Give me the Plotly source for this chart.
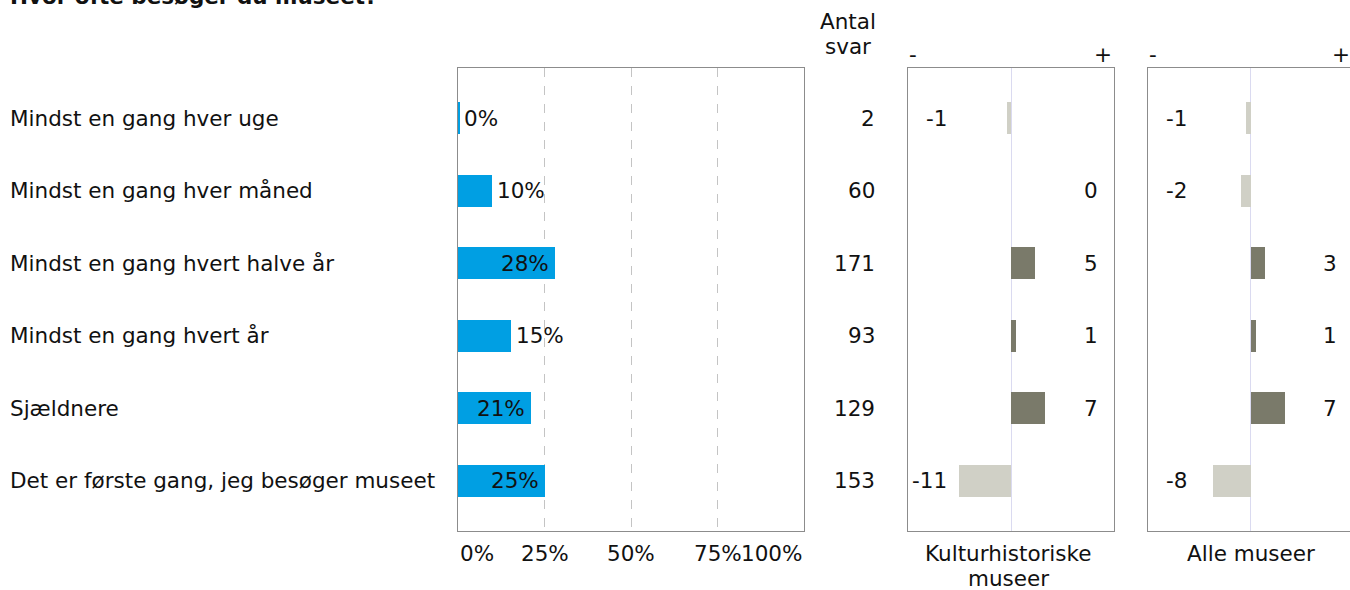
import plotly.graph_objects as go

# ---- data ----
title = "Hvor ofte besøger du museet?"
categories = [
    "Mindst en gang hver uge",
    "Mindst en gang hver måned",
    "Mindst en gang hvert halve år",
    "Mindst en gang hvert år",
    "Sjældnere",
    "Det er første gang, jeg besøger museet",
]
pct = [0.3, 9.9, 28.1, 15.3, 21.2, 25.2]
pct_labels = ["0%", "10%", "28%", "15%", "21%", "25%"]
counts = [2, 60, 171, 93, 129, 153]
diff_kultur = [-1, 0, 5, 1, 7, -11]
diff_alle = [-1, -2, 3, 1, 7, -8]
main_ticks = [0, 25, 50, 75, 100]
main_tick_labels = ["0%", "25%", "50%", "75%", "100%"]

# ---- style ----
W, H = 1350, 590
FONT = "DejaVu Sans"
FS = 21.5
TXT = "#111111"
BLUE = "#009fe3"
POS = "#7a7a6a"
NEG = "#d0d0c6"
BORDER = "#8c8c8c"


def px_x(p):
    return p / W


def px_y(p):
    return 1 - p / H


y_dom = [px_y(531), px_y(68)]
n = len(categories)
y_range = [n - 1 + 0.69, -0.69]

fig = go.Figure()

fig.add_trace(go.Bar(
    x=pct, y=categories, orientation="h", marker=dict(color=BLUE, line=dict(width=0)),
    width=0.44, xaxis="x", yaxis="y", hoverinfo="skip", showlegend=False,
))

for vals, xa, ya in [(diff_kultur, "x2", "y2"), (diff_alle, "x3", "y3")]:
    fig.add_trace(go.Bar(
        x=vals, y=categories, orientation="h",
        marker=dict(color=[POS if v > 0 else NEG for v in vals], line=dict(width=0)),
        width=0.44, xaxis=xa, yaxis=ya, hoverinfo="skip", showlegend=False,
    ))

ann = []


def add(text, x, xref, xanchor, y, yref, xshift=0, bold=False):
    ann.append(dict(text=("<b>%s</b>" % text) if bold else text, x=x, xref=xref, xanchor=xanchor,
                    y=y, yref=yref, yanchor="middle", xshift=xshift, showarrow=False,
                    font=dict(size=FS, color=TXT)))


# category labels
for c in categories:
    add(c, px_x(8), "paper", "left", c, "y")
# bar value labels
for c, v, lab in zip(categories, pct, pct_labels):
    if v >= 20:
        add(lab, v, "x", "right", c, "y", xshift=-4)
    else:
        add(lab, v, "x", "left", c, "y", xshift=3)
# counts
add("Antal", px_x(848), "paper", "center", px_y(22), "paper")
add("svar", px_x(848), "paper", "center", px_y(47), "paper")
for c, v in zip(categories, counts):
    add(str(v), px_x(877), "paper", "right", c, "y")
# diff labels
for vals, xa in [(diff_kultur, "x2"), (diff_alle, "x3")]:
    for c, v in zip(categories, vals):
        xpos = -13 if v < 0 else 18.4
        add(str(v), xpos, xa, "right", c, "y")
# main axis tick labels
for t, lab in zip(main_ticks, main_tick_labels):
    anchor = "left" if t == main_ticks[0] else ("right" if t == main_ticks[-1] else "center")
    add(lab, t, "x", anchor, px_y(553), "paper")
# minus / plus
for left, right in [(907, 1114), (1147, 1352)]:
    add("-", px_x(left), "paper", "left", px_y(54), "paper")
    add("+", px_x(right), "paper", "right", px_y(54), "paper")
# panel names
add("Kulturhistoriske", px_x(1008), "paper", "center", px_y(553), "paper")
add("museer", px_x(1008), "paper", "center", px_y(578), "paper")
add("Alle museer", px_x(1251), "paper", "center", px_y(553), "paper")
# title (cut off at the top edge, as in the reference)
add(title, px_x(8), "paper", "left", px_y(-4), "paper", bold=True)

yax_common = dict(domain=y_dom, range=y_range, type="category", categoryorder="array",
                  categoryarray=categories, showticklabels=False, ticks="", showgrid=False,
                  zeroline=False, showline=True, linecolor=BORDER, linewidth=1, fixedrange=True)

fig.update_layout(
    width=W, height=H, margin=dict(l=0, r=0, t=0, b=0),
    paper_bgcolor="white", plot_bgcolor="white",
    font=dict(family=FONT, size=FS, color=TXT),
    bargap=0,
    xaxis=dict(domain=[px_x(458), px_x(804)], range=[0, 100], tickvals=main_ticks[1:-1],
               showticklabels=False, ticks="", showgrid=True, gridcolor="#c4c4c4", griddash="dash",
               gridwidth=1, zeroline=False, showline=True, mirror=True, linecolor=BORDER,
               anchor="y"),
    yaxis=dict(**yax_common, mirror=True, anchor="x"),
    xaxis2=dict(domain=[px_x(908), px_x(1114)], range=[-21.55, 21.35], showticklabels=False,
                ticks="", showgrid=False, zeroline=True, zerolinecolor="#dadaf0", zerolinewidth=1,
                showline=True, mirror=True, linecolor=BORDER, anchor="y2"),
    yaxis2=dict(**yax_common, mirror=True, anchor="x2"),
    xaxis3=dict(domain=[px_x(1148), 1], range=[-21.46, 20.63], showticklabels=False,
                ticks="", showgrid=False, zeroline=True, zerolinecolor="#dadaf0", zerolinewidth=1,
                showline=True, mirror=True, linecolor=BORDER, anchor="y3"),
    yaxis3=dict(**yax_common, mirror=False, anchor="x3"),
    annotations=ann,
)

fig.write_html("out.html", config={"displayModeBar": False},
               post_script="document.body.style.margin='0';document.body.style.overflow='hidden';")
